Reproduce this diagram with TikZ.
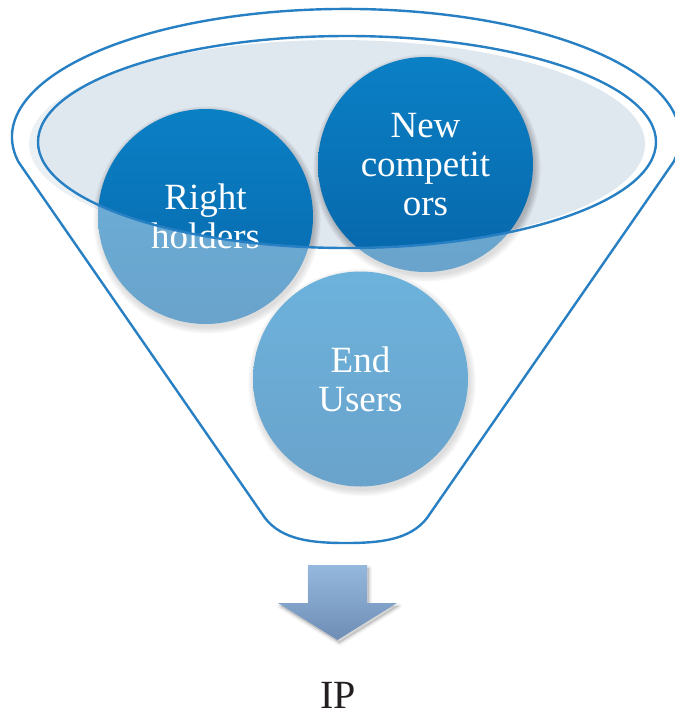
\documentclass[tikz,border=0pt]{standalone}
\usepackage{fontspec}
\setmainfont{Liberation Serif}
\usetikzlibrary{calc}

\definecolor{rimblue}{RGB}{40,128,196}
\definecolor{surface}{RGB}{223,231,239}
\definecolor{balltop}{RGB}{11,128,197}
\definecolor{ballbottom}{RGB}{7,102,170}
\definecolor{arrowtop}{RGB}{149,184,223}
\definecolor{arrowbottom}{RGB}{110,141,180}
\definecolor{ink}{RGB}{35,31,32}

\begin{document}
\begin{tikzpicture}[x=1pt,y=-1pt,
  rim/.style={draw=rimblue,line width=2.4pt},
  ball/.style={circle,minimum size=215pt,inner sep=0pt,
    top color=balltop,bottom color=ballbottom},
  balltext/.style={text=white,align=center,inner sep=0pt,
    font=\fontsize{37}{39}\selectfont},
  softshade/.style={black,opacity=0.03},
]
\useasboundingbox (0,0) rectangle (675,716);

% centres of the three balls
\coordinate (crh) at (205.5,216.5);
\coordinate (cnc) at (425.5,164.5);
\coordinate (ceu) at (360.5,379);

% surface inside the funnel mouth
\fill[surface] (337,144) ellipse [x radius=308, y radius=104];

% soft shadows under the balls
\foreach \c in {crh,cnc,ceu} {
  \foreach \k in {0,...,7}
    \fill[softshade] ($(\c)+(1.5,3.5)$) circle[radius=107.5+\k*0.9];
}

% the balls
\node[ball] (rh) at (crh) {};
\node[ball] (nc) at (cnc) {};
\node[ball] (eu) at (ceu) {};

% funnel body seen through: lighten everything below the mouth
\fill[white,opacity=0.4,even odd rule]
  (0,0) rectangle (675,716)
  (347,142) ellipse [x radius=309, y radius=106];

% labels
\node[balltext] (rht) at (crh) {Right\\holders};
\node[balltext] (nct) at (cnc) {New\\competit\\ors};
\node[balltext] (eut) at (ceu) {End\\Users};

% rim of the mouth
\draw[rim] (347,142) ellipse [x radius=309, y radius=106];

% outer funnel outline
\draw[rim,line join=round]
  (18.5,162) arc[start angle=168.7, end angle=371.3, x radius=334, y radius=128]
  -- (427,518)
  .. controls (410,540) and (380,543) .. (346,543)
  .. controls (312,543) and (282,540) .. (265,518)
  -- cycle;

% output arrow with its shadow
\foreach \k in {1,...,6}
  \fill[black,opacity=0.025,line join=round,draw=black,line width=\k pt,draw opacity=0.02]
    (310,568) -- (369,568) -- (369,606) -- (399,606) -- (339.5,643)
    -- (280,606) -- (310,606) -- cycle;
\path[top color=arrowtop,bottom color=arrowbottom]
  (308,565) -- (367,565) -- (367,603) -- (397,603) -- (337.5,640)
  -- (278,603) -- (308,603) -- cycle;

\node[text=ink,inner sep=0pt,anchor=base,font=\fontsize{40}{40}\selectfont]
  (ip) at (338,708) {IP};
\end{tikzpicture}
\end{document}
